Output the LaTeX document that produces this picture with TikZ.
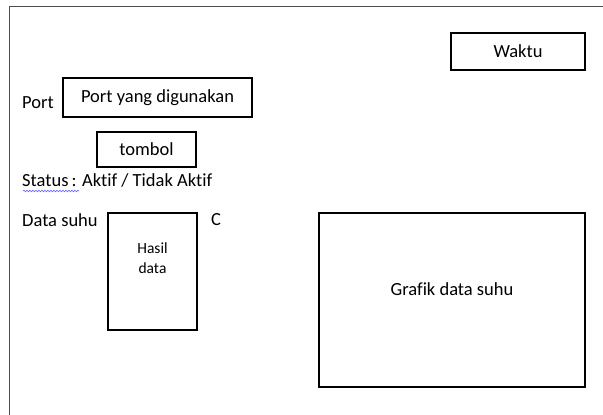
\documentclass[tikz,border=0pt]{standalone}
\usepackage{fontspec}
\setmainfont[Ligatures={NoCommon}]{Carlito}
\usetikzlibrary{decorations.pathmorphing}
\begin{document}
\begin{tikzpicture}[x=1pt,y=-1pt,
  box/.style={draw=black,line width=1.4pt,inner sep=0pt,font=\fontsize{18.5}{22}\selectfont},
  lbl/.style={inner sep=0pt,font=\fontsize{18.5}{22}\selectfont},
  frame/.style={draw=black!70,line width=1.3pt}]
\useasboundingbox (0,0) rectangle (603,415);
\coordinate (fl) at (9.5,415);
\coordinate (fc) at (9.5,6.5);
\coordinate (fr) at (603,6.5);
\draw[frame] (fl) -- (fc) -- (fr);
\node[box,minimum width=134pt,minimum height=37pt] (waktu) at (518,51.5) {Waktu};
\node[lbl,anchor=west] (portlbl) at (22,103) {Port};
\node[box,minimum width=189pt,minimum height=39pt] (port) at (157.5,97.5) {Port yang digunakan};
\node[box,minimum width=99pt,minimum height=35pt] (tombol) at (146.5,149.5) {tombol};
\node[lbl,anchor=west] (status) at (22,180) {Status\,: Aktif / Tidak Aktif};
\coordinate (sq1) at (23,191);
\coordinate (sq2) at (79,191);
\draw[blue!60,line width=0.6pt,decorate,decoration={snake,amplitude=0.8pt,segment length=3pt}] (sq1) -- (sq2);
\node[lbl,anchor=west] (datasuhu) at (22,220) {Data suhu};
\node[box,minimum width=89pt,minimum height=117pt] (hasil) at (152.5,271.5) {};
\node[lbl,align=center,font=\fontsize{15.5}{20}\selectfont,anchor=north] (hasiltxt) at (152.5,243) {Hasil\\data};
\node[lbl] (c) at (216,220) {C};
\node[box,minimum width=266pt,minimum height=174pt] (grafik) at (452,300) {};
\node[lbl] (grafiktxt) at (452,289) {Grafik data suhu};
\end{tikzpicture}
\end{document}
